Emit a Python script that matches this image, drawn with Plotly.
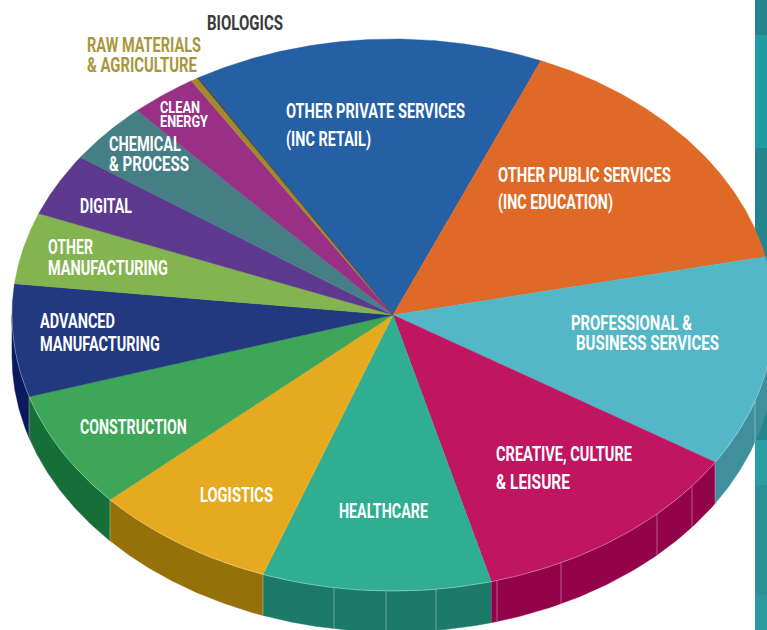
import json
import numpy as np
import plotly.graph_objects as go

# ---------- data ----------
categories = ["Other private services (inc retail)", "Other public services (inc education)",
              "Professional & business services", "Creative, culture & leisure", "Healthcare",
              "Logistics", "Construction", "Advanced manufacturing", "Other manufacturing",
              "Digital", "Chemical & process", "Clean energy", "Raw materials & agriculture", "Biologics"]
values = [14.9, 15.3, 12.37, 11.91, 9.72, 7.8, 6.9, 6.6, 4.2, 3.7, 3.6, 2.85, 0.3, 0.05]
top_colors = ["#2660a4", "#df6a27", "#53b7c7", "#c01560", "#2fae91", "#e5aa20", "#3da658",
              "#22387f", "#84b44f", "#5d3a8e", "#457e85", "#9a2f86", "#a08a2c", "#3a3a3a"]
side_colors = ["#1c4a80", "#a94f1c", "#3f8f9d", "#93034a", "#1c7b68", "#967009", "#166f38",
               "#0a1a5c", "#628a38", "#43286c", "#30616a", "#752264", "#7c6a20", "#2a2a2a"]

label_lines = ["OTHER PRIVATE SERVICES", "(INC RETAIL)", "OTHER PUBLIC SERVICES", "(INC EDUCATION)",
               "PROFESSIONAL &", "BUSINESS SERVICES", "CREATIVE, CULTURE", "& LEISURE",
               "HEALTHCARE", "LOGISTICS", "CONSTRUCTION", "ADVANCED", "MANUFACTURING",
               "OTHER", "MANUFACTURING", "DIGITAL", "CHEMICAL", "& PROCESS", "CLEAN", "ENERGY",
               "BIOLOGICS", "RAW MATERIALS", "& AGRICULTURE"]
label_x = [286, 286, 498, 498, 571, 576, 496, 496, 339, 200, 80, 40, 40, 48, 48, 80, 109, 109,
           160, 160, 207, 87, 87]
label_y = [113, 141, 177, 204, 325, 345, 456, 484, 513, 497, 429, 323, 346, 249, 270, 208, 146,
           166, 109, 123, 25, 47, 67]
label_size = [21] * 18 + [17, 17] + [21] * 3
label_width = [179, 85, 173, 115, 121, 143, 136, 74, 89, 73, 107, 75, 120, 45, 120, 52, 72, 80,
               40, 48, 76, 114, 110]
label_color = ["#ffffff"] * 20 + ["#3a3a3a", "#a8963c", "#a8963c"]

# ---------- geometry ----------
CX, CY, RX, RY, DEPTH = 393, 315, 381, 276, 41
START_DEG = 329.3
seam_x = [755, 692, 657, 561, 497, 436, 386, 334]
edge_seams = [715, 263, 110, 29]
strip_bands = [(0, 35, "#25858f"), (35, 148, "#1f9ba5"), (148, 440, "#25858f"),
               (440, 485, "#2a9fa3"), (485, 595, "#2a9296"), (595, 630, "#2a9aa0")]


def ell(deg):
    a = np.radians(deg)
    return CX + RX * np.sin(a), CY - RY * np.cos(a)


fig = go.Figure()
shares = np.array(values) / sum(values) * 360
edges = START_DEG + np.concatenate([[0], np.cumsum(shares)])

for i, col in enumerate(side_colors):
    lo, hi = edges[i], edges[i + 1]
    for shift in (0, 360):
        a0, a1 = max(lo - shift, 90), min(hi - shift, 270)
        if a1 > a0:
            t = np.linspace(a0, a1, 80)
            x, y = ell(t)
            fig.add_trace(go.Scatter(
                x=np.r_[x, x[::-1]], y=np.r_[y, y[::-1] + DEPTH], fill="toself", mode="lines",
                fillcolor=col, line=dict(color=col, width=0.5), name=categories[i], hoverinfo="name"))

for sx, alpha in [(s, 0.35) for s in seam_x] + [(s, 0.3) for s in edge_seams]:
    ya = CY + RY * np.sqrt(max(0, 1 - ((sx - CX) / RX) ** 2))
    fig.add_trace(go.Scatter(x=[sx, sx], y=[ya, ya + DEPTH], mode="lines", hoverinfo="skip",
                             line=dict(color=f"rgba(255,255,255,{alpha})", width=1)))

for i, col in enumerate(top_colors):
    t = np.linspace(edges[i], edges[i + 1], 120)
    x, y = ell(t)
    fig.add_trace(go.Scatter(
        x=np.r_[CX, x, CX], y=np.r_[CY, y, CY], fill="toself", mode="lines",
        fillcolor=col, line=dict(color=col, width=0.4), name=categories[i], hoverinfo="name"))

t = np.linspace(90, 270, 300)
x, y = ell(t)
fig.add_trace(go.Scatter(x=x, y=y, mode="lines", hoverinfo="skip",
                         line=dict(color="rgba(255,255,255,0.4)", width=0.8)))

fig.add_trace(go.Scatter(
    x=label_x, y=label_y, text=label_lines, mode="text", textposition="middle right",
    textfont=dict(family="Roboto", size=label_size, color=label_color, weight="bold"),
    hoverinfo="skip", cliponaxis=False))

shapes = [dict(type="rect", x0=755, x1=768, y0=a, y1=b, fillcolor=c, line_width=0, layer="below")
          for a, b, c in strip_bands]

fig.update_layout(
    width=767, height=630, margin=dict(l=0, r=0, t=0, b=0), showlegend=False,
    paper_bgcolor="white", plot_bgcolor="white", shapes=shapes,
    xaxis=dict(range=[0, 767], visible=False, fixedrange=True),
    yaxis=dict(range=[630, 0], visible=False, fixedrange=True),
)
post = """
document.documentElement.style.margin = '0';
document.body.style.margin = '0';
document.body.style.overflow = 'hidden';
var widths = %s;
document.querySelectorAll('.textpoint text').forEach(function (el, i) {
  var w = el.getComputedTextLength();
  var x0 = parseFloat(el.getAttribute('x')) || 0;
  var s = widths[i] / w;
  el.setAttribute('transform', 'translate(' + x0 + ',0) scale(' + s.toFixed(4) + ',1) translate(' + (-x0) + ',0)');
});
""" % json.dumps(label_width)
fig.write_html("out.html", config={"displayModeBar": False}, post_script=post)
